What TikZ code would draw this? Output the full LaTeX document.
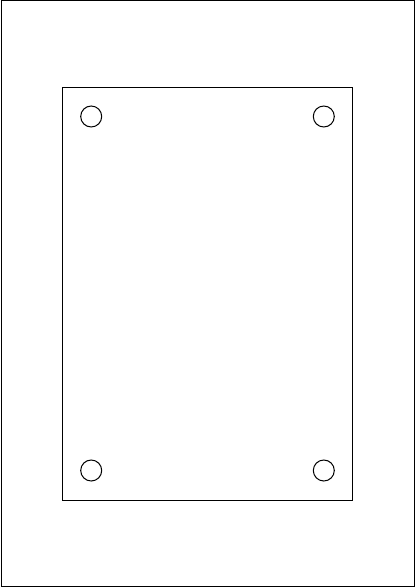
\documentclass[tikz,border=0pt]{standalone}
\usepackage{tikz}

\begin{document}
\begin{tikzpicture}[x=1pt,y=-1pt,line width=1pt,
		hole/.style={circle,draw,minimum size=21pt,inner sep=0pt}]
		\useasboundingbox (0,0) rectangle (416,588);
		% outer sheet
		\draw (1,1) rectangle (414.5,586.5);
		% plate
		\draw (62.3,87.3) rectangle (352.7,500);
		% mounting holes
		\node[hole] (h1) at (91.2,116.5) {};
		\node[hole] (h2) at (323.8,116.5) {};
		\node[hole] (h3) at (91.2,470.5) {};
		\node[hole] (h4) at (323.8,470.5) {};
	\end{tikzpicture}
\end{document}
